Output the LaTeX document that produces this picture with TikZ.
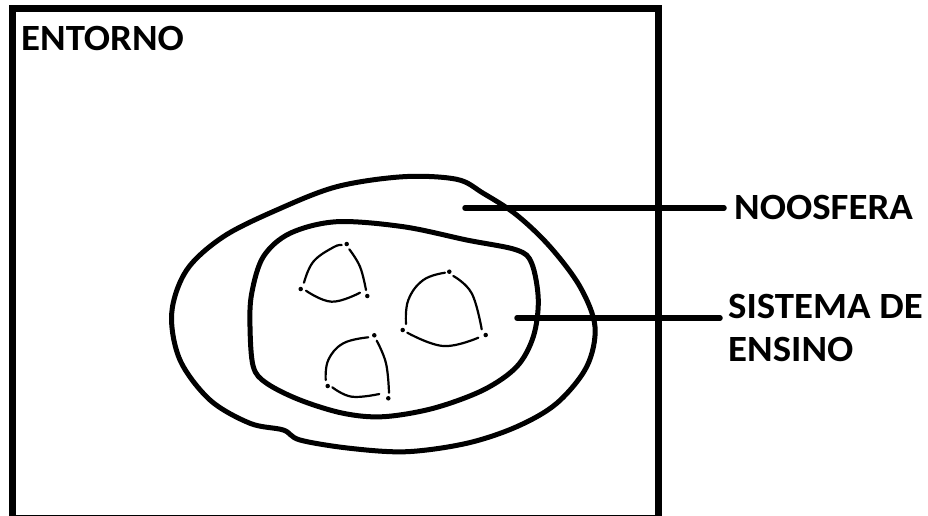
\documentclass[tikz,border=0pt]{standalone}
\usepackage{fontspec}
\setmainfont{Carlito}[FakeStretch=1.05]
\begin{document}
\begin{tikzpicture}[x=1pt,y=-1pt,
  blob/.style={line width=5pt, line join=round},
  frame/.style={line width=7pt},
  tri/.style={line width=2.2pt, line cap=round},
  vdot/.style={circle, fill=black, inner sep=0pt, minimum size=4.5pt},
  lbl/.style={font=\fontsize{37}{43}\selectfont\bfseries, inner sep=0pt, align=left},
  leader/.style={line width=5.5pt, line cap=round}]
\useasboundingbox (0,0) rectangle (928,515);
\fill[white] (0,0) rectangle (928,515);
% environment frame
\draw[frame] (12.5,8.5) rectangle (658.5,518);
\node[lbl, anchor=base west] (entorno) at (21,50) {ENTORNO};
% noosphere
\draw[blob] plot[smooth cycle, tension=0.55] coordinates {
 (403.3,176.7) (456.7,179.3) (483.3,193.3) (516.7,215) (550,246.7) (580,286.7)
 (595,326.7) (586.7,366.7) (556.7,403.3) (516.7,426.7) (466.7,443.3) (406.7,451.7)
 (350,448.3) (300,440) (283.3,430) (250,423.3) (210,400) (180,360) (171.7,313.3)
 (186.7,270) (223.3,236.7) (276.7,210) (336.7,186.7)};
% teaching system
\draw[blob] plot[smooth cycle, tension=0.55] coordinates {
 (253.3,366.7) (250,326.7) (251.7,293.3) (263.3,256.7) (290,233.3) (336.7,221.7)
 (403.3,226.7) (466.7,240) (516.7,250) (531.7,263.3) (538.3,300) (533.3,336.7)
 (516.7,366.7) (483.3,390) (433.3,408.3) (383.3,416.7) (343.3,413.3) (300,400)
 (266.7,383.3)};
% triangle 1
\node[vdot] (t1a) at (346.7,244) {};
\node[vdot] (t1b) at (300.7,289) {};
\node[vdot] (t1c) at (367.3,296) {};
\draw[tri] plot[smooth, tension=0.7] coordinates {(304,282.7) (313.3,261.7) (333.3,247.3) (341.7,245)};
\draw[tri] plot[smooth, tension=0.7] coordinates {(349.3,249.3) (360,266.7) (366,290)};
\draw[tri] plot[smooth, tension=0.7] coordinates {(306,290.7) (331.7,301.7) (360,292.7)};
% triangle 2
\node[vdot] (t2a) at (449.3,271.7) {};
\node[vdot] (t2b) at (402.7,330) {};
\node[vdot] (t2c) at (485.7,335) {};
\draw[tri] plot[smooth, tension=0.7] coordinates {(406,324) (408.3,300) (423.3,280) (445,272.7)};
\draw[tri] plot[smooth, tension=0.7] coordinates {(453.3,276) (471.7,293.3) (481.7,329.3)};
\draw[tri] plot[smooth, tension=0.7] coordinates {(407.3,332.7) (443.3,346) (478.3,337.7)};
% triangle 3
\node[vdot] (t3a) at (374.3,335.3) {};
\node[vdot] (t3b) at (327.7,386) {};
\node[vdot] (t3c) at (388.3,398.3) {};
\draw[tri] plot[smooth, tension=0.7] coordinates {(325.7,380) (328.3,360) (343.3,343.3) (368.3,337.3)};
\draw[tri] plot[smooth, tension=0.7] coordinates {(376.7,340.7) (386,363.3) (389,392.7)};
\draw[tri] plot[smooth, tension=0.7] coordinates {(332.3,387.3) (351.7,396.7) (379.3,394)};
% labels
\coordinate (n1) at (465,208);
\coordinate (n1e) at (724,208);
\node[lbl, anchor=base west] (noos) at (734,219) {NOOSFERA};
\draw[leader] (n1) -- (n1e);
\coordinate (s1) at (517,318);
\coordinate (s1e) at (720,318);
\node[lbl, anchor=base west] (sist) at (728,361) {SISTEMA DE\\ENSINO};
\draw[leader] (s1) -- (s1e);
\end{tikzpicture}
\end{document}
